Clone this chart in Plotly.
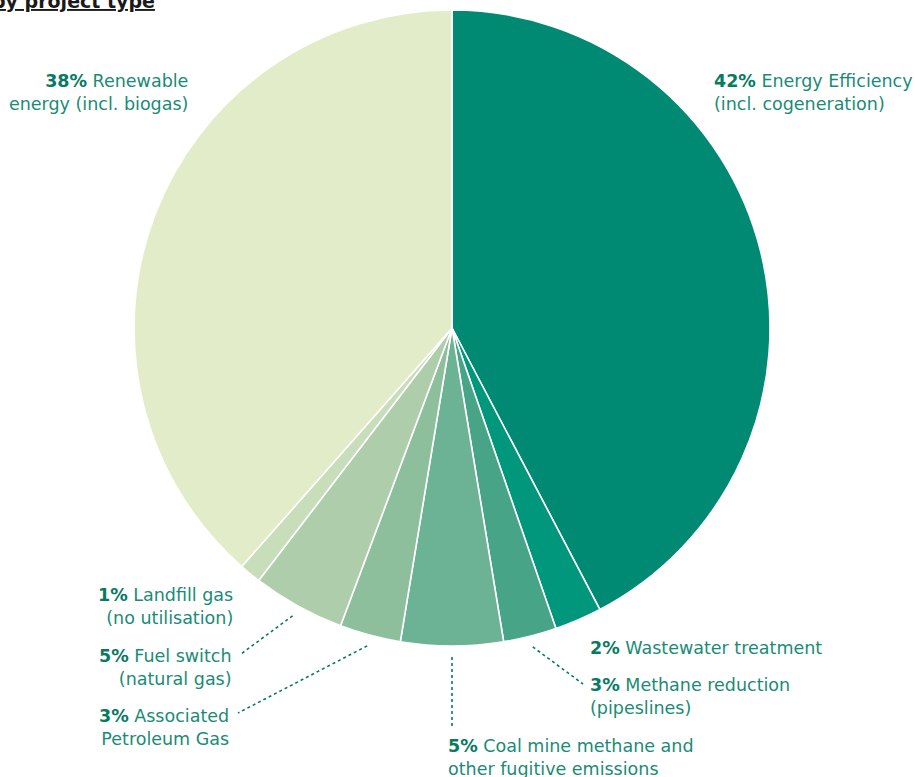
import math
import plotly.graph_objects as go

# ---------------- data ----------------
categories = [
    "Energy Efficiency (incl. cogeneration)",
    "Wastewater treatment",
    "Methane reduction (pipeslines)",
    "Coal mine methane and other fugitive emissions",
    "Associated Petroleum Gas",
    "Fuel switch (natural gas)",
    "Landfill gas (no utilisation)",
    "Renewable energy (incl. biogas)",
]
shares = [42.3, 2.4, 2.7, 5.2, 3.1, 4.7, 1.1, 38.5]
pct_labels = ["42%", "2%", "3%", "5%", "3%", "5%", "1%", "38%"]
label_lines = [
    ["Energy Efficiency", "(incl. cogeneration)"],
    ["Wastewater treatment"],
    ["Methane reduction", "(pipeslines)"],
    ["Coal mine methane and", "other fugitive emissions"],
    ["Associated", "Petroleum Gas"],
    ["Fuel switch", "(natural gas)"],
    ["Landfill gas", "(no utilisation)"],
    ["Renewable", "energy (incl. biogas)"],
]
title_text = "by project type"

# ---------------- style ----------------
W, H = 915, 777
CX, CY, R = 452, 328, 318
colors = ["#008a73", "#00977c", "#48a487", "#6cb396", "#8ebf9d",
          "#aecdaa", "#c8ddba", "#e3ecc8"]
TXT = "#1a8b75"
BOLD = "#087a63"
FONT = "DejaVu Sans"
FS = 17.5

# label placement (pixel coords): x, y-centre, anchor
label_pos = [
    (712, 93, "left"),
    (588, 648, "left"),
    (588, 696, "left"),
    (446, 757, "left"),
    (231, 727, "right"),
    (234, 667, "right"),
    (235, 606, "right"),
    (190, 93, "right"),
]
# leader end near label (pixel coords); None = no leader
leader_end = [None, None, (583, 684), (452, 728), (238, 713), (241, 654), None, None]
LEADER_GAP = 11


def px(x):
    return x / W


def py(y):
    return 1 - y / H


fig = go.Figure()
fig.add_trace(go.Pie(
    labels=categories,
    values=shares,
    sort=False,
    direction="clockwise",
    rotation=0,
    marker=dict(colors=colors, line=dict(color="white", width=1.6)),
    textinfo="none",
    hoverinfo="label+percent",
    showlegend=False,
    domain=dict(x=[px(CX - R), px(CX + R)], y=[py(CY + R), py(CY - R)]),
))

annotations = []
shapes = []
total = sum(shares)
cum = 0.0
for i, v in enumerate(shares):
    mid = (cum + v / 2) / total * 2 * math.pi
    cum += v
    x, y, anchor = label_pos[i]
    lines = list(label_lines[i])
    lines[0] = f"<span style='color:{BOLD}'><b>{pct_labels[i]}</b></span> " + lines[0]
    annotations.append(dict(
        x=px(x), y=py(y), xref="paper", yref="paper",
        xanchor=anchor, yanchor="middle", align=anchor,
        text="<br>".join(lines), showarrow=False,
        font=dict(family=FONT, size=FS, color=TXT),
    ))
    if leader_end[i] is not None:
        rr = R + LEADER_GAP
        sx = CX + rr * math.sin(mid)
        sy = CY - rr * math.cos(mid)
        ex, ey = leader_end[i]
        shapes.append(dict(
            type="line", xref="paper", yref="paper",
            x0=px(sx), y0=py(sy), x1=px(ex), y1=py(ey),
            line=dict(color=BOLD, width=1.6, dash="dot"),
        ))

annotations.append(dict(
    x=px(157), y=py(1), xref="paper", yref="paper",
    xanchor="right", yanchor="middle", align="right",
    text=f"<b><u>{title_text}</u></b>", showarrow=False,
    font=dict(family=FONT, size=19, color="#1a1a1a"),
))

fig.update_layout(
    width=W, height=H,
    margin=dict(l=0, r=0, t=0, b=0),
    paper_bgcolor="white", plot_bgcolor="white",
    annotations=annotations, shapes=shapes,
)

fig.write_html("out.html")
